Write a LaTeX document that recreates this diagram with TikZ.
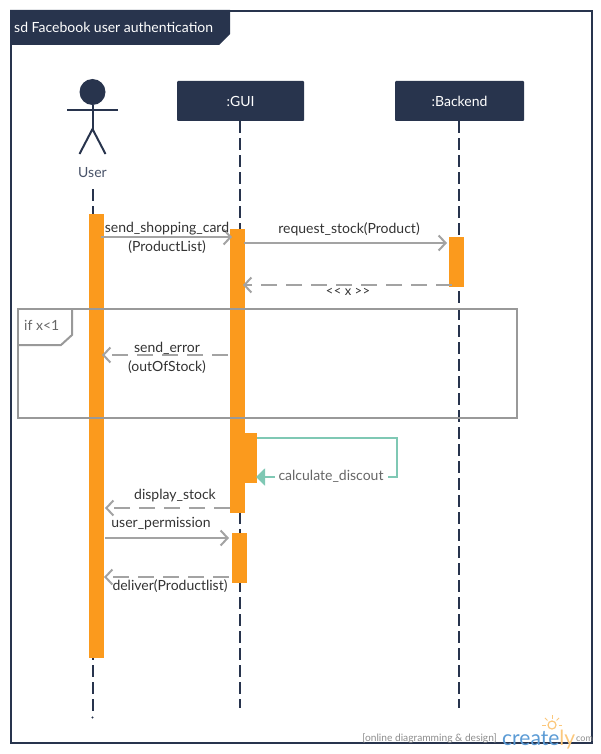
\documentclass[tikz,border=0pt]{standalone}
\usepackage{fontspec}
\setmainfont{Lato}
\usetikzlibrary{arrows.meta}
\definecolor{navy}{HTML}{28344D}
\definecolor{barorange}{HTML}{FB9A1D}
\definecolor{msggray}{HTML}{A3A3A3}
\definecolor{fragray}{HTML}{999999}
\definecolor{selfteal}{HTML}{7FC8B4}
\definecolor{logoblue}{HTML}{5B9BD5}
\definecolor{logoorange}{HTML}{FBC77B}
\tikzset{
    lifeline/.style={navy, line width=2pt, dash pattern=on 12pt off 5pt},
    headbox/.style={fill=navy, text=white, minimum height=40pt, inner sep=0pt, rounded corners=1pt, font=\fontsize{14}{16}\selectfont},
    bar/.style={fill=barorange, inner sep=0pt, anchor=north west},
    call/.style={msggray, line width=2pt, -{Straight Barb[length=7pt,width=15pt]}},
    reply/.style={call, dash pattern=on 16pt off 9pt},
    msg/.style={text=black!80, inner sep=0pt, font=\fontsize{14}{16}\selectfont},
    limb/.style={navy, line width=2pt}
}
\begin{document}
\begin{tikzpicture}[x=1pt, y=-1pt]
    \useasboundingbox (0,0) rectangle (600,754);

    % Cornice
    \draw[navy, line width=2pt] (11,11) rectangle (592,743);
    \fill[navy] (10,10) -- (230,10) -- (230,34) -- (219,45) -- (10,45) -- cycle;
    \node[anchor=west, text=white, inner sep=0pt, font=\fontsize{14}{16}\selectfont] (title) at (14,27.5) {sd Facebook user authentication};

    % Attore
    \fill[navy] (92.5,92) circle (13);
    \coordinate (neck) at (92.5,105);
    \coordinate (hip) at (92.5,129);
    \coordinate (handL) at (67,110);
    \coordinate (handR) at (118,110);
    \coordinate (footL) at (79.5,154);
    \coordinate (footR) at (105.5,154);
    \draw[limb] (neck) -- (hip);
    \draw[limb] (handL) -- (handR);
    \draw[limb] (footL) -- (hip) -- (footR);
    \node[text=navy!85, inner sep=0pt, font=\fontsize{14}{16}\selectfont] (user) at (92.5,172.5) {User};

    % Teste
    \node[headbox, minimum width=127pt] (gui) at (240.5,101) {:GUI};
    \node[headbox, minimum width=129pt] (backend) at (459.5,101) {:Backend};

    % Linee di vita
    \coordinate (userTop) at (92.5,189);
    \coordinate (userEnd) at (92.5,712);
    \coordinate (guiEnd) at (240,708);
    \coordinate (backendEnd) at (459,708);
    \draw[lifeline] (userTop) -- (userEnd);
    \draw[lifeline] (gui.south -| guiEnd) -- (guiEnd);
    \draw[lifeline] (backend.south -| backendEnd) -- (backendEnd);
    \fill[navy] (92.5,717.5) circle (1.2);

    % Barre di attivazione
    \node[bar, minimum width=15pt, minimum height=444pt] (barUser) at (89,214) {};
    \node[bar, minimum width=15pt, minimum height=284pt] (barGui) at (230,229) {};
    \node[bar, minimum width=15pt, minimum height=50pt] (barBackend) at (449,237) {};
    \node[bar, minimum width=12pt, minimum height=50pt] (barSelf) at (245,433) {};
    \node[bar, minimum width=15pt, minimum height=50pt] (barGuiB) at (232,533) {};

    % Estremi dei messaggi
    \coordinate (m1a) at (101,237);
    \coordinate (m1b) at (232,237);
    \coordinate (m2a) at (244,243);
    \coordinate (m2b) at (447,243);
    \coordinate (m3a) at (452,285);
    \coordinate (m3b) at (243,285);
    \coordinate (m4a) at (228,355);
    \coordinate (m4b) at (102,355);
    \coordinate (m5a) at (230,508);
    \coordinate (m5b) at (105,508);
    \coordinate (m6a) at (105,538);
    \coordinate (m6b) at (229,538);
    \coordinate (m7a) at (229,577);
    \coordinate (m7b) at (104,577);

    % Messaggi
    \draw[call] (m1a) -- (m1b);
    \draw[call] (m2a) -- (m2b);
    \draw[reply] (m3a) -- (m3b);
    \draw[reply] (m4a) -- (m4b);
    \draw[reply] (m5a) -- (m5b);
    \draw[call] (m6a) -- (m6b);
    \draw[reply] (m7a) -- (m7b);

    \node[msg] (m1t) at (167,229) {send\_shopping\_card};
    \node[msg] (m1u) at (167,247) {(ProductList)};
    \node[msg] (m2t) at (349,229) {request\_stock(Product)};
    \node[msg, font=\fontsize{13}{15}\selectfont] (m3t) at (348,292) {<\kern.5pt< x >\kern.5pt>};
    \node[msg] (m4t) at (167,348) {send\_error};
    \node[msg] (m4u) at (167,367) {(outOfStock)};
    \node[msg] (m5t) at (175,496) {display\_stock};
    \node[msg] (m6t) at (161,524) {user\_permission};
    \node[msg] (m7t) at (170,586) {deliver(Productlist)};

    % Messaggio a se stesso
    \coordinate (selfA) at (257,438);
    \coordinate (selfB) at (397,438);
    \coordinate (selfC) at (397,477);
    \coordinate (selfD) at (256,477);
    \draw[selfteal, line width=2pt, -{Triangle[length=9pt,width=17pt]}] (selfA) -- (selfB) -- (selfC) -- (selfD);
    \node[msg, fill=white, text=black!60, inner xsep=4pt, inner ysep=1pt] (selfT) at (331,476) {calculate\_discout};

    % Frammento
    \draw[fragray, line width=2pt] (18,309) rectangle (517,418);
    \draw[fragray, line width=2pt] (72,309) -- (72,335) -- (61,345) -- (18,345);
    \node[anchor=west, text=black!60, inner sep=0pt, font=\fontsize{14}{16}\selectfont] (guard) at (24,325.5) {if x<1};

    % Marchio
    \node[anchor=east, text=black!45, inner sep=0pt, font=\fontsize{10.2}{12}\selectfont] (tag) at (497,739) {[online diagramming \& design]};
    \node[anchor=base west, text=logoblue, inner sep=0pt, font=\fontsize{21}{23}\selectfont] (logo) at (502,745) {create\textcolor{logoorange}{ly}};
    \node[anchor=west, text=black!45, inner sep=0pt, font=\fontsize{9}{11}\selectfont] (dotcom) at (576,739.5) {com};
    \draw[logoorange, line width=1.2pt] (552,725) circle (4);
    \foreach \ang in {180,225,270,315,360}
        \draw[logoorange, line width=1pt] (552,725) ++(\ang:6.5) -- ++(\ang:3.5);
\end{tikzpicture}
\end{document}
